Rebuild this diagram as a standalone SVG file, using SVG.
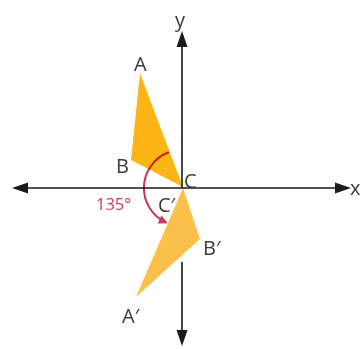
<svg xmlns="http://www.w3.org/2000/svg" width="362" height="349" viewBox="0 0 362 349">
<style>
.ax{stroke:#1a1a1a;stroke-width:1.6;fill:none}
.ah{fill:#1a1a1a}
.lb{font-family:"Open Sans","Liberation Sans",sans-serif;font-size:20px;fill:#3a3a3a}
.deg{font-family:"Open Sans","Liberation Sans",sans-serif;font-size:16.5px;fill:#c9415f}
</style>
<defs>
<marker id="arr" viewBox="0 0 10 10" refX="8" refY="5" markerWidth="4.5" markerHeight="4.5" orient="auto" markerUnits="strokeWidth">
<path d="M0,0 L10,5 L0,10 z" fill="#c8345a"/>
</marker>
</defs>
<rect width="362" height="349" fill="#fff"/>
<g id="triangle-ABC"><polygon points="140,73 131,160 183,187" fill="#fbb517"/></g>
<g id="triangle-A1B1C1"><polygon points="183,188 200,239 136,297" fill="#fbc04a"/></g>
<g id="connectors">
<line class="ax" x1="26" y1="188" x2="338" y2="188"/>
<polygon class="ah" points="12,188 28,182.5 28,193.5"/>
<polygon class="ah" points="351,188 335,182.5 335,193.5"/>
<line class="ax" x1="182" y1="44" x2="182" y2="188"/>
<line class="ax" x1="182" y1="262" x2="182" y2="333"/>
<polygon class="ah" points="182,31 176.5,47 187.5,47"/>
<polygon class="ah" points="182,346 176.5,330 187.5,330"/>
<path d="M168.9,152.3 A38 38 0 0 0 166,222.5" fill="none" stroke="#c8345a" stroke-width="2" marker-end="url(#arr)" style="mix-blend-mode:multiply"/>
</g>
<g id="labels">
<text class="lb" x="134" y="71">A</text>
<text class="lb" x="116" y="173">B</text>
<text class="lb" x="184" y="188">C</text>
<text class="lb" x="158" y="212">C′</text>
<text class="lb" x="203" y="255">B′</text>
<text class="lb" x="122" y="323">A′</text>
<text class="lb" x="350" y="195">x</text>
<text class="lb" x="175" y="27">y</text>
<text class="deg" x="96" y="210">135°</text>
</g>
</svg>
